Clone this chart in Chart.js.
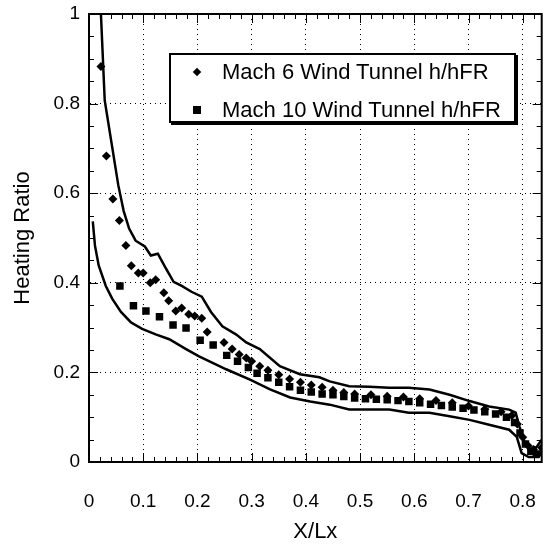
<!DOCTYPE html>
<html>
<head>
<meta charset="utf-8">
<title>Heating Ratio vs X/Lx</title>
<script src="https://cdn.jsdelivr.net/npm/chart.js@4.4.1/dist/chart.umd.min.js"></script>
<style>
  body { margin: 0; background: #fff; }
  #wrap { position: relative; width: 547px; height: 550px; }
  #legend {
    position: absolute; left: 169px; top: 53px; width: 343px; height: 66px;
    border: 2px solid #000; box-shadow: 2px 2px 0 #000; background: #fff;
    font: 22px "Liberation Sans", Arial, sans-serif; color: #000;
  }
  #legend .row { position: absolute; left: 51px; height: 26px; line-height: 26px; white-space: nowrap; }
  #legend .mk { position: absolute; background: #000; }
  #legend .dia { left: 23px; top: 14px; width: 6px; height: 6px; transform: rotate(45deg); }
  #legend .sq { left: 22px; top: 51px; width: 8px; height: 8px; }
</style>
</head>
<body>
<div id="wrap">
  <canvas id="chart" width="547" height="550"></canvas>
  <div id="legend">
    <div class="mk dia"></div>
    <div class="row" style="top:4px">Mach 6 Wind Tunnel h/hFR</div>
    <div class="mk sq"></div>
    <div class="row" style="top:42px">Mach 10 Wind Tunnel h/hFR</div>
  </div>
</div>
<script>
// Mach 6 wind tunnel h/hFR (diamonds)
const mach6X = [0.022, 0.032, 0.044, 0.056, 0.068, 0.078, 0.091, 0.100, 0.113, 0.123, 0.138, 0.147,
  0.160, 0.171, 0.184, 0.195, 0.208, 0.218, 0.249, 0.264, 0.277, 0.290, 0.300, 0.315, 0.330, 0.350,
  0.370, 0.390, 0.410, 0.430, 0.450, 0.470, 0.490, 0.520, 0.550, 0.580, 0.610, 0.640, 0.670, 0.700,
  0.730, 0.760, 0.780, 0.790, 0.800, 0.810, 0.820, 0.835];
const mach6Y = [0.883, 0.683, 0.587, 0.539, 0.483, 0.438, 0.422, 0.422, 0.400, 0.407, 0.378, 0.360,
  0.337, 0.344, 0.330, 0.326, 0.321, 0.290, 0.267, 0.252, 0.240, 0.232, 0.225, 0.214, 0.205, 0.195,
  0.185, 0.178, 0.172, 0.167, 0.160, 0.155, 0.152, 0.150, 0.147, 0.145, 0.141, 0.137, 0.132, 0.125,
  0.118, 0.112, 0.104, 0.085, 0.055, 0.036, 0.028, 0.032];

// Mach 10 wind tunnel h/hFR (squares)
const mach10X = [0.057, 0.082, 0.105, 0.130, 0.155, 0.179, 0.205, 0.229, 0.254, 0.274, 0.294, 0.310,
  0.330, 0.350, 0.370, 0.390, 0.410, 0.430, 0.450, 0.470, 0.490, 0.510, 0.530, 0.550, 0.570, 0.590,
  0.610, 0.630, 0.650, 0.670, 0.690, 0.710, 0.730, 0.750, 0.770, 0.785, 0.795, 0.805, 0.815, 0.825, 0.838];
const mach10Y = [0.393, 0.349, 0.337, 0.324, 0.306, 0.299, 0.272, 0.261, 0.238, 0.225, 0.211, 0.198,
  0.188, 0.178, 0.168, 0.160, 0.156, 0.152, 0.150, 0.146, 0.143, 0.141, 0.140, 0.139, 0.137, 0.135,
  0.132, 0.129, 0.126, 0.123, 0.120, 0.116, 0.112, 0.107, 0.100, 0.088, 0.065, 0.040, 0.024, 0.018, 0.025];

// upper bound curve
const upperX = [0.022, 0.029, 0.054, 0.064, 0.074, 0.086, 0.103, 0.114, 0.127, 0.140, 0.156, 0.171,
  0.189, 0.208, 0.225, 0.246, 0.271, 0.290, 0.315, 0.352, 0.389, 0.425, 0.444, 0.480, 0.517, 0.554,
  0.590, 0.628, 0.665, 0.702, 0.738, 0.775, 0.787, 0.794, 0.804, 0.813, 0.826, 0.835];
const upperY = [1.000, 0.807, 0.618, 0.560, 0.521, 0.494, 0.481, 0.461, 0.465, 0.436, 0.402, 0.393,
  0.380, 0.369, 0.335, 0.303, 0.285, 0.267, 0.252, 0.214, 0.196, 0.189, 0.180, 0.169, 0.168, 0.166,
  0.166, 0.162, 0.150, 0.136, 0.124, 0.117, 0.110, 0.079, 0.043, 0.027, 0.034, 0.050];

// lower bound curve
const lowerX = [0.007, 0.011, 0.018, 0.031, 0.043, 0.059, 0.077, 0.098, 0.123, 0.148, 0.179, 0.203,
  0.227, 0.253, 0.297, 0.334, 0.371, 0.408, 0.444, 0.480, 0.517, 0.554, 0.590, 0.628, 0.665, 0.702,
  0.738, 0.775, 0.789, 0.798, 0.811, 0.829, 0.835];
const lowerY = [0.537, 0.483, 0.438, 0.393, 0.364, 0.335, 0.312, 0.297, 0.285, 0.274, 0.252, 0.236,
  0.222, 0.207, 0.184, 0.162, 0.144, 0.135, 0.128, 0.117, 0.117, 0.117, 0.110, 0.110, 0.102, 0.094,
  0.083, 0.072, 0.056, 0.020, 0.011, 0.011, 0.020];

const xTicks = [0, 0.1, 0.2, 0.3, 0.4, 0.5, 0.6, 0.7, 0.8];
const xTickLabels = ['0', '0.1', '0.2', '0.3', '0.4', '0.5', '0.6', '0.7', '0.8'];
const yTicks = [0, 0.2, 0.4, 0.6, 0.8, 1];
const yTickLabels = ['0', '0.2', '0.4', '0.6', '0.8', '1'];

const pts = (xs, ys) => xs.map((x, i) => ({ x: x, y: ys[i] }));

Chart.defaults.font.family = '"Liberation Sans", Arial, sans-serif';
Chart.defaults.color = '#000';

// solid frame + small tick marks on all four sides
const framePlugin = {
  id: 'frame',
  afterDraw(chart) {
    const { ctx, chartArea: a, scales: { x, y } } = chart;
    ctx.save();
    ctx.strokeStyle = '#000';
    ctx.lineWidth = 2;
    ctx.strokeRect(a.left, a.top, a.right - a.left, a.bottom - a.top);
    ctx.lineWidth = 1;
    ctx.beginPath();
    for (let i = 0; i * 0.02 <= x.max + 1e-9; i++) {
      const px = Math.round(x.getPixelForValue(i * 0.02)) + 0.5;
      const len = i % 5 === 0 ? 9 : 5;
      ctx.moveTo(px, a.bottom); ctx.lineTo(px, a.bottom - len);
      ctx.moveTo(px, a.top); ctx.lineTo(px, a.top + len);
    }
    for (let i = 0; i * 0.05 <= y.max + 1e-9; i++) {
      const py = Math.round(y.getPixelForValue(i * 0.05)) + 0.5;
      const len = i % 4 === 0 ? 9 : 5;
      ctx.moveTo(a.left, py); ctx.lineTo(a.left + len, py);
      ctx.moveTo(a.right, py); ctx.lineTo(a.right - len, py);
    }
    ctx.stroke();
    ctx.restore();
  }
};

new Chart(document.getElementById('chart'), {
  type: 'scatter',
  data: {
    datasets: [
      {
        label: 'Mach 6 Wind Tunnel h/hFR',
        data: pts(mach6X, mach6Y),
        pointStyle: 'rectRot',
        pointRadius: 4.5,
        backgroundColor: '#000',
        borderWidth: 0
      },
      {
        label: 'Mach 10 Wind Tunnel h/hFR',
        data: pts(mach10X, mach10Y),
        pointStyle: 'rect',
        pointRadius: 5.3,
        backgroundColor: '#000',
        borderWidth: 0
      },
      {
        label: 'upper',
        data: pts(upperX, upperY),
        showLine: true,
        pointRadius: 0,
        borderColor: '#000',
        borderWidth: 2.5,
        tension: 0
      },
      {
        label: 'lower',
        data: pts(lowerX, lowerY),
        showLine: true,
        pointRadius: 0,
        borderColor: '#000',
        borderWidth: 2.5,
        tension: 0
      }
    ]
  },
  options: {
    responsive: false,
    animation: false,
    layout: { padding: { top: 14, right: 4, left: 0, bottom: 0 } },
    plugins: {
      legend: { display: false },
      tooltip: { enabled: false }
    },
    scales: {
      x: {
        type: 'linear',
        min: 0,
        max: 0.835,
        afterBuildTicks: s => { s.ticks = xTicks.map(v => ({ value: v })); },
        afterFit: s => { s.height = 88; },
        grid: { color: '#000', lineWidth: 1, drawTicks: true, tickLength: 25, tickColor: 'rgba(0,0,0,0)' },
        border: { display: true, color: '#000', width: 2, dash: [1, 4] },
        ticks: {
          padding: 3,
          font: { size: 19 },
          maxRotation: 0,
          autoSkip: false,
          callback: (v, i) => xTickLabels[i]
        },
        title: {
          display: true,
          text: 'X/Lx',
          font: { size: 22 },
          padding: { top: 0, bottom: 5 }
        }
      },
      y: {
        type: 'linear',
        min: 0,
        max: 1,
        afterBuildTicks: s => { s.ticks = yTicks.map(v => ({ value: v })); },
        afterFit: s => { s.width = 89; },
        grid: { color: '#000', lineWidth: 1, drawTicks: true, tickLength: 7, tickColor: 'rgba(0,0,0,0)' },
        border: { display: true, color: '#000', width: 2, dash: [1, 4] },
        ticks: {
          padding: 2,
          font: { size: 19 },
          autoSkip: false,
          callback: (v, i) => yTickLabels[i]
        },
        title: {
          display: true,
          text: 'Heating Ratio',
          font: { size: 22 },
          padding: { top: 10, bottom: 0 }
        }
      }
    }
  },
  plugins: [framePlugin]
});
</script>
</body>
</html>
